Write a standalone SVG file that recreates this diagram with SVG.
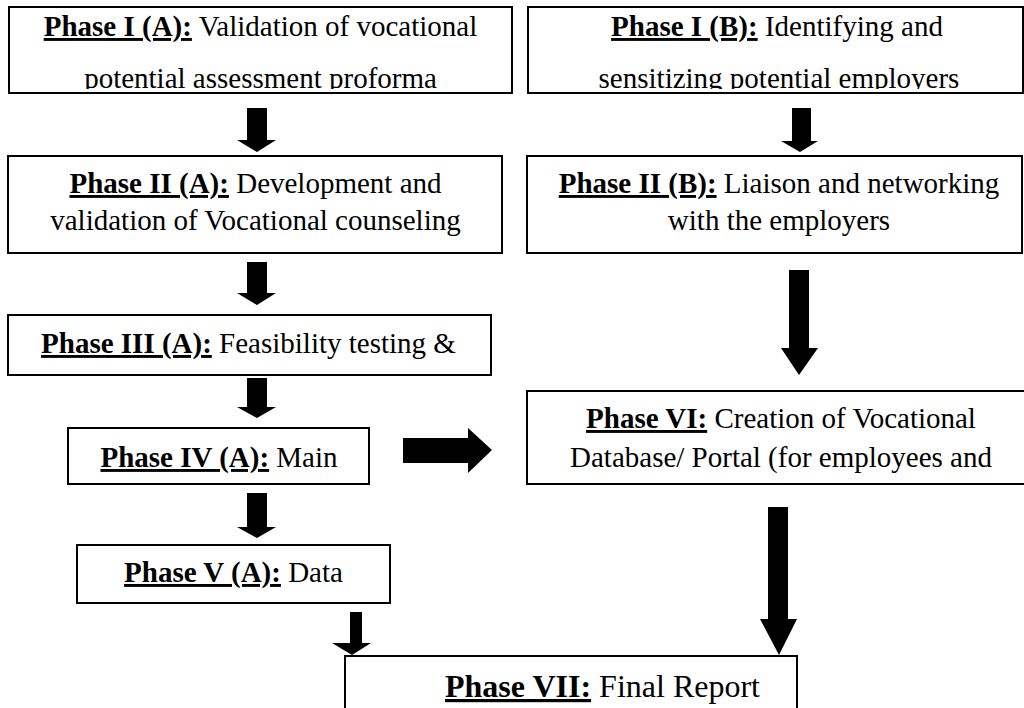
<svg xmlns="http://www.w3.org/2000/svg" width="1024" height="708" viewBox="0 0 1024 708">
<style>
.box{fill:#fff;stroke:#000;stroke-width:2}
.t{font-family:"Liberation Serif","Times New Roman",serif;font-size:29px;fill:#000;text-anchor:middle}
.b{font-weight:bold;text-decoration:underline}
.arrow{fill:#000;stroke:none}
</style>
<defs>
<clipPath id="c1"><rect x="10" y="8" width="501" height="81"/></clipPath>
<clipPath id="c2"><rect x="529" y="8" width="493" height="81"/></clipPath>
<clipPath id="c3"><rect x="9" y="316" width="481" height="58"/></clipPath>
<clipPath id="c6"><rect x="528" y="392" width="496" height="91"/></clipPath>
</defs>
<rect width="1024" height="708" fill="#fff"/>
<g id="connectors">
<path class="arrow" d="M247,108 H267 V140 H276 L257,152 L237,140 H247 Z"/>
<path class="arrow" d="M247,262 H267 V293 H276 L257,305 L237,293 H247 Z"/>
<path class="arrow" d="M247,378 H267 V407 H276 L257,418 L237,407 H247 Z"/>
<path class="arrow" d="M247,493 H267 V527 H276 L257,538 L237,527 H247 Z"/>
<path class="arrow" d="M350,612 H362 V643 H371 L352,655 L332,643 H350 Z"/>
<path class="arrow" d="M792,108 H811 V141 H818 L800,152 L781,141 H792 Z"/>
<path class="arrow" d="M789,270 H809 V348 H818 L799,375 L781,348 H789 Z"/>
<path class="arrow" d="M768,507 H788 V619 H797 L779,655 L760,619 H768 Z"/>
<path class="arrow" d="M403,438 H468 V428 L492,450 L468,473 V463 H403 Z"/>
</g>
<g id="phase1a">
<rect class="box" x="9" y="7" width="503" height="86"/>
<g clip-path="url(#c1)">
<text class="t" x="260.5" y="36"><tspan class="b">Phase I (A):</tspan> Validation of vocational</text>
<text class="t" x="260.5" y="88">potential assessment proforma</text>
</g>
</g>
<g id="phase1b">
<rect class="box" x="528" y="7" width="495" height="86"/>
<g clip-path="url(#c2)">
<text class="t" x="777" y="36"><tspan class="b">Phase I (B):</tspan> Identifying and</text>
<text class="t" x="779" y="88">sensitizing potential employers</text>
</g>
</g>
<g id="phase2a">
<rect class="box" x="8" y="156" width="494" height="97"/>
<text class="t" x="255.5" y="193"><tspan class="b">Phase II (A):</tspan> Development and</text>
<text class="t" x="255.5" y="230">validation of Vocational counseling</text>
</g>
<g id="phase2b">
<rect class="box" x="527" y="156" width="495" height="97"/>
<text class="t" x="779" y="193"><tspan class="b">Phase II (B):</tspan> Liaison and networking</text>
<text class="t" x="779" y="230">with the employers</text>
</g>
<g id="phase3a">
<rect class="box" x="8" y="315" width="483" height="60"/>
<g clip-path="url(#c3)">
<text class="t" x="248.5" y="353"><tspan class="b">Phase III (A):</tspan> Feasibility testing &amp;</text>
</g>
</g>
<g id="phase4a">
<rect class="box" x="68" y="428" width="301" height="56"/>
<text class="t" x="219" y="467"><tspan class="b">Phase IV (A):</tspan> Main</text>
</g>
<g id="phase5a">
<rect class="box" x="77" y="545" width="313" height="58"/>
<text class="t" x="233.5" y="582"><tspan class="b">Phase V (A):</tspan> Data</text>
</g>
<g id="phase6">
<rect class="box" x="527" y="391" width="510" height="93"/>
<g clip-path="url(#c6)">
<text class="t" x="781" y="428"><tspan class="b">Phase VI:</tspan> Creation of Vocational</text>
<text class="t" x="781" y="467">Database/ Portal (for employees and</text>
</g>
</g>
<g id="phase7">
<rect class="box" x="345" y="656" width="452" height="70"/>
<text class="t" x="445" y="697" style="font-size:32px;text-anchor:start"><tspan class="b">Phase VII:</tspan> Final Report</text>
</g>
</svg>
